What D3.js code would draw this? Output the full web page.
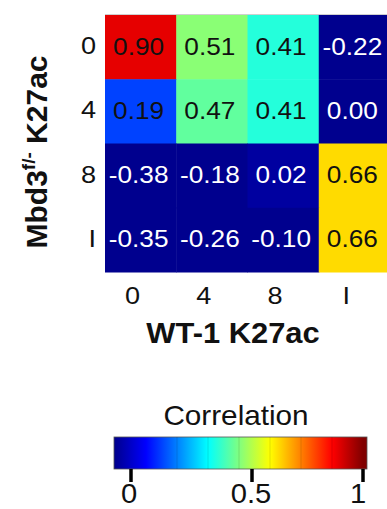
<!DOCTYPE html>
<html>
<head>
<meta charset="utf-8">
<script src="https://cdn.jsdelivr.net/npm/d3@7"></script>
<style>
  body { margin: 0; background: #fff; }
  text { font-family: "Liberation Sans", Arial, Helvetica, sans-serif; }
</style>
</head>
<body>
<script>
// rows = Mbd3 f/- samples, cols = WT-1 samples
const rowLabels = ["0", "4", "8", "I"];
const colLabels = ["0", "4", "8", "I"];
const corr0 = [0.90, 0.51, 0.41, -0.22];
const corr4 = [0.19, 0.47, 0.41, 0.00];
const corr8 = [-0.38, -0.18, 0.02, 0.66];
const corrI = [-0.35, -0.26, -0.10, 0.66];
const legendTicks = [0, 0.5, 1];
const legendTickLabels = ["0", "0.5", "1"];

const width = 387;
const height = 509;

const svg = d3.select("body")
  .append("svg")
  .attr("width", width)
  .attr("height", height);

// jet colormap
const jet = d3.scaleLinear()
  .domain([0, 0.125, 0.375, 0.625, 0.875, 1])
  .range(["#00008e", "#0000ff", "#00ffff", "#ffff00", "#ff0000", "#800000"])
  .clamp(true);

const x = d3.scaleBand().domain(colLabels).range([105, 390]);
const y = d3.scaleBand().domain(rowLabels).range([15, 272]);

const matrix = [corr0, corr4, corr8, corrI];
const cells = [];
matrix.forEach((row, i) => {
  row.forEach((v, j) => {
    cells.push({ r: rowLabels[i], c: colLabels[j], v: v });
  });
});

// helper: text slightly wider than the font (picture was stretched)
function stretched(sel, px, py, sx) {
  sel.attr("transform", (d, i) => `translate(${px(d, i)},${py(d, i)}) scale(${sx},1)`);
}

const g = svg.append("g");

g.selectAll("rect.cell")
  .data(cells)
  .enter()
  .append("rect")
  .attr("class", "cell")
  .attr("x", d => x(d.c))
  .attr("y", d => y(d.r))
  .attr("width", x.bandwidth() + 0.5)
  .attr("height", y.bandwidth() + 0.5)
  .attr("fill", d => jet(d.v));

// thin frame line on top
g.append("line")
  .attr("x1", x.range()[0]).attr("x2", x.range()[1])
  .attr("y1", 14.5).attr("y2", 14.5)
  .attr("stroke", "#cfcfcf");

const cellText = g.selectAll("text.val")
  .data(cells)
  .enter()
  .append("text")
  .attr("class", "val")
  .attr("text-anchor", "middle")
  .attr("font-size", 23)
  .attr("fill", d => d.v < 0.1 ? "#fff" : "#111")
  .text(d => d.v.toFixed(2));
stretched(cellText, d => x(d.c) + x.bandwidth() / 2 - 2, d => y(d.r) + y.bandwidth() / 2 + 7.5, 1.14);

// row tick labels
const rowText = svg.selectAll("text.rowlab")
  .data(rowLabels)
  .enter()
  .append("text")
  .attr("class", "rowlab")
  .attr("text-anchor", "end")
  .attr("font-size", 24)
  .attr("fill", "#111")
  .text(d => d);
stretched(rowText, () => 96, d => y(d) + y.bandwidth() / 2 + 7, 1.13);

// col tick labels
const colText = svg.selectAll("text.collab")
  .data(colLabels)
  .enter()
  .append("text")
  .attr("class", "collab")
  .attr("text-anchor", "middle")
  .attr("font-size", 24)
  .attr("fill", "#111")
  .text(d => d);
stretched(colText, d => x(d) + x.bandwidth() / 2 - 8, () => 304, 1.13);

// axis titles
svg.append("text")
  .attr("text-anchor", "middle")
  .attr("font-size", 30)
  .attr("font-weight", "bold")
  .attr("fill", "#111")
  .attr("transform", "translate(233,343) scale(1.03,1)")
  .text("WT-1 K27ac");

const yTitle = svg.append("text")
  .attr("text-anchor", "middle")
  .attr("font-size", 30)
  .attr("font-weight", "bold")
  .attr("fill", "#111")
  .attr("transform", "translate(47,152) rotate(-90)");
yTitle.append("tspan").text("Mbd3");
yTitle.append("tspan").attr("font-size", 19).attr("dy", -12).text("f/-");
yTitle.append("tspan").attr("dy", 12).text(" K27ac");

// colour bar
const barX0 = 114, barX1 = 367, barY = 437, barH = 32;
const defs = svg.append("defs");
const grad = defs.append("linearGradient")
  .attr("id", "jetGrad")
  .attr("x1", "0%").attr("x2", "100%")
  .attr("y1", "0%").attr("y2", "0%");
const barScale = d3.scaleLinear().domain([0, 1]).range([barX0 + 1, barX1 - 4]);
d3.range(0, 1.0001, 0.025).forEach(t => {
  grad.append("stop")
    .attr("offset", ((barScale(t) - barX0) / (barX1 - barX0) * 100) + "%")
    .attr("stop-color", jet(t));
});

svg.append("rect")
  .attr("x", barX0).attr("y", barY)
  .attr("width", barX1 - barX0).attr("height", barH)
  .attr("fill", "url(#jetGrad)")
  .attr("stroke", "#555")
  .attr("stroke-width", 0.8);

// faint inner ticks in the bar
svg.selectAll("line.minor")
  .data([0.25, 0.375, 0.5, 0.625, 0.75, 0.875])
  .enter()
  .append("line")
  .attr("class", "minor")
  .attr("x1", d => barScale(d)).attr("x2", d => barScale(d))
  .attr("y1", barY).attr("y2", barY + barH)
  .attr("stroke", "#000")
  .attr("stroke-opacity", 0.12);

svg.append("text")
  .attr("text-anchor", "middle")
  .attr("font-size", 27)
  .attr("fill", "#111")
  .attr("transform", "translate(236,425) scale(1.1,1)")
  .text("Correlation");

// tick positions as they sit under the bar
const tickX = d3.scaleLinear().domain(legendTicks).range([131, 252, 363]);

svg.selectAll("line.ltick")
  .data(legendTicks)
  .enter()
  .append("line")
  .attr("class", "ltick")
  .attr("x1", d => tickX(d)).attr("x2", d => tickX(d))
  .attr("y1", barY + barH).attr("y2", barY + barH + 13)
  .attr("stroke", "#000")
  .attr("stroke-width", 3.5);

const legText = svg.selectAll("text.ltlab")
  .data(legendTicks)
  .enter()
  .append("text")
  .attr("class", "ltlab")
  .attr("text-anchor", "middle")
  .attr("font-size", 27)
  .attr("fill", "#111")
  .text((d, i) => legendTickLabels[i]);
stretched(legText, (d, i) => tickX(d) - (i === 0 ? 2 : i === 1 ? 1 : 5), () => 503, 1.08);
</script>
</body>
</html>
